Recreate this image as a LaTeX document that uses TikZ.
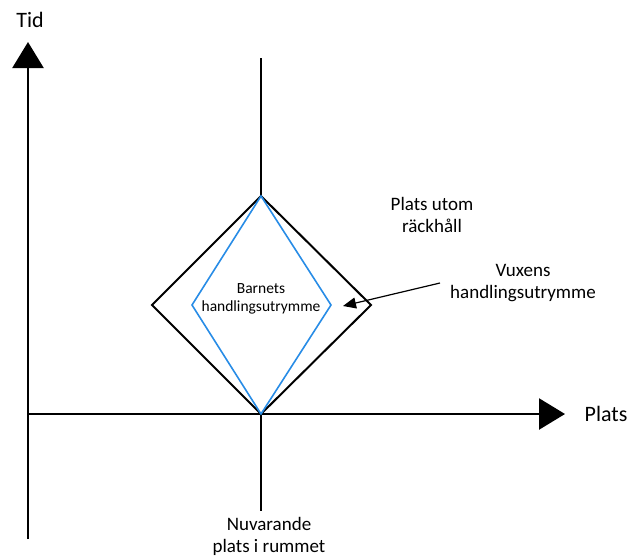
\documentclass[tikz,border=0pt]{standalone}
\usepackage{fontspec}
\setmainfont{Carlito}
\usetikzlibrary{arrows.meta}
\definecolor{barnblue}{RGB}{40,140,230}
\tikzset{
    axis/.style={line width=2.4pt, -{Triangle[length=26pt,width=31pt]}},
    label/.style={align=center, inner sep=0pt},
}

\begin{document}
\begin{tikzpicture}[x=1pt, y=-1pt]
    \useasboundingbox (0,0) rectangle (640,558);

    \begin{scope} %axlar
        \coordinate (o) at (28,414);
        \coordinate (ybot) at (28,539);
        \coordinate (ytop) at (28,42);
        \coordinate (xend) at (565,414);
        \coordinate (ctop) at (261,58);
        \coordinate (cbot) at (261,511);
        \draw [axis] (ybot) -- (ytop);
        \draw [axis] (o) -- (xend);
        \node [label, font=\fontsize{22}{26}\selectfont] (tid) at (30,20) {Tid};
        \node [label, font=\fontsize{22}{26}\selectfont] (plats) at (606,414) {Plats};
    \end{scope}

    \begin{scope} %romben
        \coordinate (top) at (261,196);
        \coordinate (bot) at (261,414);
        \coordinate (vl) at (152,305);
        \coordinate (vr) at (371,305);
        \coordinate (bl) at (192,305);
        \coordinate (br) at (331,305);
        \draw [line width=1.2pt] (ctop) -- (top);
        \draw [line width=1.2pt] (bot) -- (cbot);
        \draw [line width=2pt] (top) -- (vr) -- (bot) -- (vl) -- cycle;
        \draw [barnblue, line width=1.6pt] (top) -- (br) -- (bot) -- (bl) -- cycle;
        \node [label, font=\fontsize{15.5}{18}\selectfont] (barn) at (261,299) {Barnets\\handlingsutrymme};
    \end{scope}

    \begin{scope}[every node/.style={label, font=\fontsize{19}{22}\selectfont}] %texter
        \node (utom) at (432,215) {Plats utom\\räckhåll};
        \node (vuxen) at (523,283) {Vuxens\\handlingsutrymme};
        \node (nu) at (269,536) {Nuvarande\\plats i rummet};
        \coordinate (vstart) at (440,283);
        \coordinate (vtip) at (343,306);
        \draw [-{Triangle[length=13pt,width=11pt]}, line width=1.2pt] (vstart) -- (vtip);
    \end{scope}

\end{tikzpicture}
\end{document}
